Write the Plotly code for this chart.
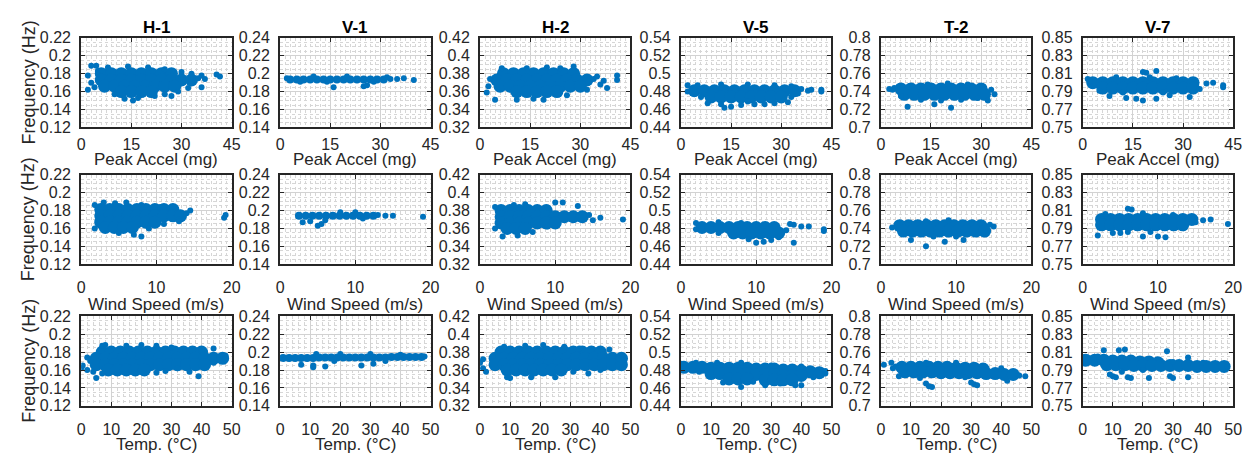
import plotly.graph_objects as go

# ---------------- data ----------------
columns = ["H-1", "V-1", "H-2", "V-5", "T-2", "V-7"]
row_xtitles = ["Peak Accel (mg)", "Wind Speed (m/s)", "Temp. (°C)"]
y_title = "Frequency (Hz)"

x_ticks_acc = [0, 15, 30, 45]
x_ticks_wind = [0, 10, 20]
x_ticks_temp = [0, 10, 20, 30, 40, 50]

y_ticks_h1 = [0.12, 0.14, 0.16, 0.18, 0.20, 0.22]
y_labels_h1 = ["0.12", "0.14", "0.16", "0.18", "0.2", "0.22"]
y_ticks_v1 = [0.14, 0.16, 0.18, 0.20, 0.22, 0.24]
y_labels_v1 = ["0.14", "0.16", "0.18", "0.2", "0.22", "0.24"]
y_ticks_h2 = [0.32, 0.34, 0.36, 0.38, 0.40, 0.42]
y_labels_h2 = ["0.32", "0.34", "0.36", "0.38", "0.4", "0.42"]
y_ticks_v5 = [0.44, 0.46, 0.48, 0.50, 0.52, 0.54]
y_labels_v5 = ["0.44", "0.46", "0.48", "0.5", "0.52", "0.54"]
y_ticks_t2 = [0.70, 0.72, 0.74, 0.76, 0.78, 0.80]
y_labels_t2 = ["0.7", "0.72", "0.74", "0.76", "0.78", "0.8"]
y_ticks_v7 = [0.75, 0.77, 0.79, 0.81, 0.83, 0.85]
y_labels_v7 = ["0.75", "0.77", "0.79", "0.81", "0.83", "0.85"]

# ---- Row 1 : Peak acceleration ----
acc_h1_cx = [6, 9, 12, 15, 18, 21, 24, 27, 6, 9, 12, 15, 18, 21, 24, 27, 30, 33, 7, 10, 13, 16, 19, 22, 25, 28, 12, 15, 18, 21]
acc_h1_cy = [0.180, 0.180, 0.180, 0.180, 0.180, 0.180, 0.180, 0.180, 0.173, 0.173, 0.173, 0.173, 0.173, 0.173, 0.173, 0.173, 0.173, 0.173, 0.166, 0.166, 0.166, 0.166, 0.166, 0.166, 0.166, 0.166, 0.160, 0.160, 0.160, 0.160]
acc_h1_ex = [2, 2, 3, 4.5, 3, 4, 5, 8, 14, 20, 25, 30, 13, 15.5, 17, 25, 27, 29, 32, 35, 37, 36, 40.5, 41.5, 36, 33, 10, 22]
acc_h1_ey = [0.162, 0.178, 0.189, 0.189, 0.170, 0.165, 0.183, 0.187, 0.188, 0.187, 0.185, 0.182, 0.152, 0.150, 0.153, 0.157, 0.155, 0.160, 0.164, 0.175, 0.174, 0.178, 0.179, 0.177, 0.165, 0.180, 0.157, 0.155]

acc_v1_cx = [3, 5, 7, 9, 11, 13, 15, 17, 19, 21, 23, 25, 27, 29, 31]
acc_v1_cy = [0.1935, 0.1935, 0.1935, 0.1935, 0.1935, 0.1935, 0.1935, 0.1935, 0.1935, 0.1935, 0.1935, 0.1935, 0.1935, 0.1935, 0.1935]
acc_v1_ex = [2, 16, 25, 26, 33, 35, 37, 40, 32, 10, 20, 28, 6, 14]
acc_v1_ey = [0.195, 0.185, 0.186, 0.187, 0.194, 0.194, 0.195, 0.193, 0.196, 0.197, 0.197, 0.191, 0.191, 0.191]

acc_h2_cx = [7, 10, 13, 16, 19, 22, 25, 28, 5, 8, 11, 14, 17, 20, 23, 26, 29, 32, 6, 9, 12, 15, 18, 21, 24, 27, 30, 11, 14, 17, 20, 23]
acc_h2_cy = [0.380, 0.380, 0.380, 0.380, 0.380, 0.380, 0.380, 0.380, 0.373, 0.373, 0.373, 0.373, 0.373, 0.373, 0.373, 0.373, 0.373, 0.373, 0.366, 0.366, 0.366, 0.366, 0.366, 0.366, 0.366, 0.366, 0.366, 0.360, 0.360, 0.360, 0.360, 0.360]
acc_h2_ex = [2, 2.5, 3, 4.5, 6.5, 11, 16, 19, 14, 20, 28, 24, 34, 35, 37, 38, 41, 41, 36, 32, 26]
acc_h2_ey = [0.359, 0.366, 0.374, 0.351, 0.386, 0.351, 0.352, 0.351, 0.386, 0.387, 0.388, 0.386, 0.374, 0.377, 0.372, 0.364, 0.378, 0.373, 0.368, 0.362, 0.356]

acc_v5_cx = [4, 7, 10, 13, 16, 19, 22, 25, 28, 31, 34, 9, 12, 15, 18, 21, 24, 27, 30]
acc_v5_cy = [0.481, 0.481, 0.481, 0.481, 0.481, 0.481, 0.481, 0.481, 0.481, 0.481, 0.481, 0.474, 0.474, 0.474, 0.474, 0.474, 0.474, 0.474, 0.474]
acc_v5_ex = [2, 2, 5, 12, 20, 28, 33, 36, 38, 39, 42, 42, 6, 8, 12, 13, 15, 18, 22, 25, 28, 32, 33, 35, 20]
acc_v5_ey = [0.487, 0.480, 0.487, 0.488, 0.488, 0.487, 0.486, 0.483, 0.481, 0.482, 0.482, 0.480, 0.474, 0.467, 0.466, 0.462, 0.463, 0.465, 0.466, 0.466, 0.467, 0.468, 0.474, 0.478, 0.469]

acc_t2_cx = [6, 9, 12, 15, 18, 21, 24, 27, 30, 7, 10, 13, 16, 19, 22, 25, 28, 31]
acc_t2_cy = [0.743, 0.743, 0.743, 0.743, 0.743, 0.743, 0.743, 0.743, 0.743, 0.737, 0.737, 0.737, 0.737, 0.737, 0.737, 0.737, 0.737, 0.737]
acc_t2_ex = [2.5, 4, 3.5, 6, 8, 16, 21, 29, 32, 33, 34, 12, 18, 24, 14, 20, 26]
acc_t2_ey = [0.743, 0.744, 0.742, 0.735, 0.723, 0.726, 0.722, 0.733, 0.730, 0.742, 0.737, 0.731, 0.730, 0.731, 0.748, 0.749, 0.748]

acc_v7_cx = [3, 6, 9, 12, 15, 18, 21, 24, 27, 30, 33, 6, 9, 12, 15, 18, 21, 24, 27, 30, 33]
acc_v7_cy = [0.800, 0.800, 0.800, 0.800, 0.800, 0.800, 0.800, 0.800, 0.800, 0.800, 0.800, 0.794, 0.794, 0.794, 0.794, 0.794, 0.794, 0.794, 0.794, 0.794, 0.794]
acc_v7_ex = [1.5, 2, 5, 8, 13, 16, 18, 22, 26, 32, 19, 18, 22, 37, 39, 42, 42, 35, 10, 20, 28, 12, 24]
acc_v7_ey = [0.804, 0.801, 0.791, 0.785, 0.783, 0.782, 0.780, 0.782, 0.786, 0.784, 0.811, 0.812, 0.813, 0.799, 0.800, 0.795, 0.797, 0.793, 0.806, 0.806, 0.805, 0.789, 0.789]

# ---- Row 2 : Wind speed ----
wind_h1_cx = [2.6, 3.8, 5.0, 6.2, 7.4, 8.6, 9.8, 11.0, 12.2, 2.6, 3.8, 5.0, 6.2, 7.4, 8.6, 9.8, 11.0, 12.2, 13.2, 2.6, 3.8, 5.0, 6.2, 7.4, 8.6, 9.8, 3.2, 4.4, 5.6, 6.8]
wind_h1_cy = [0.181, 0.181, 0.181, 0.181, 0.181, 0.181, 0.181, 0.181, 0.181, 0.174, 0.174, 0.174, 0.174, 0.174, 0.174, 0.174, 0.174, 0.174, 0.174, 0.167, 0.167, 0.167, 0.167, 0.167, 0.167, 0.167, 0.161, 0.161, 0.161, 0.161]
wind_h1_ex = [1.8, 1.8, 3, 4.5, 6, 8, 7, 8, 5, 9, 11, 13, 14, 14.5, 13, 19, 19.2, 10.5]
wind_h1_ey = [0.186, 0.160, 0.189, 0.188, 0.189, 0.186, 0.153, 0.151, 0.155, 0.160, 0.165, 0.170, 0.177, 0.180, 0.168, 0.172, 0.175, 0.184]

wind_v1_cx = [2.5, 3.4, 4.3, 5.2, 6.1, 7.0, 7.9, 8.8, 9.7, 10.6, 11.5, 12.4]
wind_v1_cy = [0.194, 0.194, 0.194, 0.194, 0.194, 0.194, 0.194, 0.194, 0.194, 0.194, 0.194, 0.194]
wind_v1_ex = [3, 5, 5.5, 4, 14, 15, 19, 13, 8, 10, 6, 11]
wind_v1_ey = [0.187, 0.183, 0.185, 0.188, 0.194, 0.194, 0.193, 0.195, 0.198, 0.198, 0.189, 0.191]

wind_h2_cx = [2.8, 4.0, 5.2, 6.4, 7.6, 8.8, 2.8, 4.0, 5.2, 6.4, 7.6, 8.8, 10.0, 11.2, 12.4, 13.6, 2.8, 4.0, 5.2, 6.4, 7.6, 8.8, 10.0, 3.6, 4.8, 6.0]
wind_h2_cy = [0.380, 0.380, 0.380, 0.380, 0.380, 0.380, 0.373, 0.373, 0.373, 0.373, 0.373, 0.373, 0.373, 0.373, 0.373, 0.373, 0.366, 0.366, 0.366, 0.366, 0.366, 0.366, 0.366, 0.360, 0.360, 0.360]
wind_h2_ex = [2, 2, 3, 5, 4.5, 6, 7, 10, 11, 13, 15, 16, 19, 14.5, 9, 9]
wind_h2_ey = [0.384, 0.360, 0.351, 0.352, 0.386, 0.387, 0.356, 0.389, 0.389, 0.385, 0.369, 0.372, 0.370, 0.375, 0.383, 0.362]

wind_v5_cx = [2.8, 4.0, 5.2, 6.4, 7.6, 8.8, 10.0, 11.2, 12.4, 7.0, 8.2, 9.4, 10.6, 11.8, 13.0]
wind_v5_cy = [0.481, 0.481, 0.481, 0.481, 0.481, 0.481, 0.481, 0.481, 0.481, 0.475, 0.475, 0.475, 0.475, 0.475, 0.475]
wind_v5_ex = [2, 2, 5, 8, 11, 5, 10, 11, 9, 12, 15, 13, 14.5, 15, 16, 17, 19, 19, 14]
wind_v5_ey = [0.486, 0.479, 0.487, 0.486, 0.483, 0.475, 0.464, 0.465, 0.468, 0.467, 0.464, 0.470, 0.485, 0.484, 0.482, 0.482, 0.479, 0.477, 0.478]

wind_t2_cx = [2.5, 3.7, 4.9, 6.1, 7.3, 8.5, 9.7, 10.9, 12.1, 13.3, 3.0, 4.2, 5.4, 6.6, 7.8, 9.0, 10.2, 11.4, 12.6, 13.8]
wind_t2_cy = [0.743, 0.743, 0.743, 0.743, 0.743, 0.743, 0.743, 0.743, 0.743, 0.743, 0.737, 0.737, 0.737, 0.737, 0.737, 0.737, 0.737, 0.737, 0.737, 0.737]
wind_t2_ex = [4, 6, 8.5, 11, 15, 14.5, 1.5, 6, 9, 7, 10]
wind_t2_ey = [0.727, 0.720, 0.725, 0.727, 0.742, 0.744, 0.741, 0.748, 0.749, 0.731, 0.731]

wind_v7_cx = [2.5, 3.7, 4.9, 6.1, 7.3, 8.5, 9.7, 10.9, 12.1, 13.3, 14.5, 2.5, 3.7, 4.9, 6.1, 7.3, 8.5, 9.7, 10.9, 12.1, 13.3]
wind_v7_cy = [0.800, 0.800, 0.800, 0.800, 0.800, 0.800, 0.800, 0.800, 0.800, 0.800, 0.800, 0.794, 0.794, 0.794, 0.794, 0.794, 0.794, 0.794, 0.794, 0.794, 0.794]
wind_v7_ex = [2, 4, 5, 6, 8, 10, 11, 9, 6, 6.5, 16, 17, 19.3, 15, 3, 8, 12]
wind_v7_ey = [0.782, 0.785, 0.785, 0.786, 0.781, 0.781, 0.780, 0.786, 0.812, 0.811, 0.799, 0.800, 0.795, 0.797, 0.806, 0.807, 0.805]

# ---- Row 3 : Temperature ----
temp_h1_cx = [7, 10, 13, 16, 19, 22, 25, 28, 31, 34, 37, 40, 5, 8, 11, 14, 17, 20, 23, 26, 29, 32, 35, 38, 41, 44, 47, 5, 8, 11, 14, 17, 20, 23, 26, 29, 32, 35, 38, 41, 9, 12, 15, 18, 21]
temp_h1_cy = [0.180, 0.180, 0.180, 0.180, 0.180, 0.180, 0.180, 0.180, 0.180, 0.180, 0.180, 0.180, 0.173, 0.173, 0.173, 0.173, 0.173, 0.173, 0.173, 0.173, 0.173, 0.173, 0.173, 0.173, 0.173, 0.173, 0.173, 0.166, 0.166, 0.166, 0.166, 0.166, 0.166, 0.166, 0.166, 0.166, 0.166, 0.166, 0.166, 0.166, 0.160, 0.160, 0.160, 0.160, 0.160]
temp_h1_ex = [0, 0.5, 2, 4, 5, 3, 2, 7, 8, 15, 20, 25, 30, 44, 39, 36, 46, 48, 48, 44, 28, 32, 40, 7, 25]
temp_h1_ey = [0.162, 0.165, 0.160, 0.158, 0.151, 0.170, 0.174, 0.187, 0.188, 0.187, 0.188, 0.187, 0.185, 0.184, 0.153, 0.158, 0.175, 0.176, 0.172, 0.168, 0.159, 0.162, 0.183, 0.156, 0.157]

temp_v1_cx = [1, 3, 5, 7, 9, 11, 13, 15, 17, 19, 21, 23, 25, 27, 29, 31, 33, 35, 37, 39, 41, 43, 45, 47]
temp_v1_cy = [0.1935, 0.1935, 0.1935, 0.1935, 0.1935, 0.1935, 0.194, 0.194, 0.194, 0.194, 0.194, 0.194, 0.194, 0.194, 0.194, 0.194, 0.194, 0.194, 0.1945, 0.1945, 0.1945, 0.1945, 0.1945, 0.1945]
temp_v1_ex = [7, 11, 15, 27, 31, 11, 0, 12, 20, 30, 40, 48, 18, 35]
temp_v1_ey = [0.186, 0.183, 0.184, 0.185, 0.187, 0.185, 0.193, 0.198, 0.198, 0.198, 0.197, 0.195, 0.190, 0.190]

temp_h2_cx = [7, 10, 13, 16, 19, 22, 25, 28, 31, 34, 37, 40, 5, 8, 11, 14, 17, 20, 23, 26, 29, 32, 35, 38, 41, 44, 47, 5, 8, 11, 14, 17, 20, 23, 26, 29, 32, 35, 38, 41, 44, 47, 9, 12, 15, 18, 21, 24, 27]
temp_h2_cy = [0.380, 0.380, 0.380, 0.380, 0.380, 0.380, 0.380, 0.380, 0.380, 0.380, 0.380, 0.380, 0.373, 0.373, 0.373, 0.373, 0.373, 0.373, 0.373, 0.373, 0.373, 0.373, 0.373, 0.373, 0.373, 0.373, 0.373, 0.366, 0.366, 0.366, 0.366, 0.366, 0.366, 0.366, 0.366, 0.366, 0.366, 0.366, 0.366, 0.366, 0.366, 0.366, 0.360, 0.360, 0.360, 0.360, 0.360, 0.360, 0.360]
temp_h2_ex = [0, 1, 2, 1, 6, 9, 10, 17, 25, 36, 43, 46, 48, 8, 15, 21, 28, 33, 40, 31]
temp_h2_ey = [0.368, 0.362, 0.358, 0.372, 0.375, 0.352, 0.351, 0.352, 0.352, 0.356, 0.383, 0.373, 0.372, 0.386, 0.387, 0.388, 0.386, 0.384, 0.360, 0.358]

temp_v5_cx = [1, 4, 7, 10, 13, 16, 19, 22, 25, 28, 31, 34, 37, 40, 43, 46, 10, 13, 16, 19, 22, 25, 28, 31, 34, 37, 40, 16, 19, 22, 28, 31, 34, 37]
temp_v5_cy = [0.483, 0.483, 0.483, 0.482, 0.482, 0.482, 0.482, 0.482, 0.481, 0.481, 0.481, 0.480, 0.480, 0.479, 0.478, 0.477, 0.476, 0.476, 0.476, 0.476, 0.476, 0.475, 0.475, 0.475, 0.474, 0.474, 0.474, 0.470, 0.470, 0.470, 0.469, 0.469, 0.469, 0.469]
temp_v5_ex = [0, 0, 5, 12, 20, 30, 40, 48, 48, 6, 20, 28, 38, 40, 14, 24, 33, 44]
temp_v5_ey = [0.487, 0.481, 0.488, 0.488, 0.488, 0.485, 0.484, 0.479, 0.476, 0.478, 0.461, 0.463, 0.463, 0.463, 0.466, 0.467, 0.465, 0.472]

temp_t2_cx = [7, 10, 13, 16, 19, 22, 25, 28, 31, 34, 8, 11, 14, 17, 20, 23, 26, 29, 32, 35, 38, 41, 44]
temp_t2_cy = [0.743, 0.743, 0.743, 0.743, 0.743, 0.743, 0.742, 0.742, 0.742, 0.741, 0.738, 0.738, 0.738, 0.738, 0.737, 0.737, 0.737, 0.737, 0.737, 0.736, 0.736, 0.735, 0.735]
temp_t2_ex = [1, 3.5, 4, 5, 6, 15, 16, 17, 31, 32, 30, 42, 48, 46, 40, 25, 15, 13, 28]
temp_t2_ey = [0.746, 0.748, 0.742, 0.744, 0.733, 0.725, 0.722, 0.721, 0.724, 0.723, 0.726, 0.728, 0.733, 0.734, 0.742, 0.748, 0.748, 0.731, 0.732]

temp_v7_cx = [1, 4, 7, 10, 13, 16, 19, 22, 25, 8, 11, 14, 17, 20, 23, 26, 29, 32, 35, 38, 41, 44, 47]
temp_v7_cy = [0.801, 0.801, 0.801, 0.800, 0.800, 0.800, 0.799, 0.799, 0.798, 0.796, 0.796, 0.796, 0.795, 0.795, 0.795, 0.795, 0.795, 0.795, 0.795, 0.794, 0.794, 0.794, 0.794]
temp_v7_ex = [0, 0, 7, 12, 14, 28, 35, 10, 11, 15, 16, 22, 29, 30, 35, 9, 13, 20, 30, 40, 48, 5]
temp_v7_ey = [0.804, 0.799, 0.812, 0.812, 0.813, 0.811, 0.804, 0.783, 0.782, 0.782, 0.781, 0.781, 0.783, 0.781, 0.782, 0.785, 0.788, 0.790, 0.799, 0.798, 0.794, 0.805]

# ---------------- assembling ----------------
panels = [
    [(acc_h1_cx, acc_h1_cy, acc_h1_ex, acc_h1_ey), (acc_v1_cx, acc_v1_cy, acc_v1_ex, acc_v1_ey),
     (acc_h2_cx, acc_h2_cy, acc_h2_ex, acc_h2_ey), (acc_v5_cx, acc_v5_cy, acc_v5_ex, acc_v5_ey),
     (acc_t2_cx, acc_t2_cy, acc_t2_ex, acc_t2_ey), (acc_v7_cx, acc_v7_cy, acc_v7_ex, acc_v7_ey)],
    [(wind_h1_cx, wind_h1_cy, wind_h1_ex, wind_h1_ey), (wind_v1_cx, wind_v1_cy, wind_v1_ex, wind_v1_ey),
     (wind_h2_cx, wind_h2_cy, wind_h2_ex, wind_h2_ey), (wind_v5_cx, wind_v5_cy, wind_v5_ex, wind_v5_ey),
     (wind_t2_cx, wind_t2_cy, wind_t2_ex, wind_t2_ey), (wind_v7_cx, wind_v7_cy, wind_v7_ex, wind_v7_ey)],
    [(temp_h1_cx, temp_h1_cy, temp_h1_ex, temp_h1_ey), (temp_v1_cx, temp_v1_cy, temp_v1_ex, temp_v1_ey),
     (temp_h2_cx, temp_h2_cy, temp_h2_ex, temp_h2_ey), (temp_v5_cx, temp_v5_cy, temp_v5_ex, temp_v5_ey),
     (temp_t2_cx, temp_t2_cy, temp_t2_ex, temp_t2_ey), (temp_v7_cx, temp_v7_cy, temp_v7_ex, temp_v7_ey)],
]
y_ticks = [y_ticks_h1, y_ticks_v1, y_ticks_h2, y_ticks_v5, y_ticks_t2, y_ticks_v7]
y_labels = [y_labels_h1, y_labels_v1, y_labels_h2, y_labels_v5, y_labels_t2, y_labels_v7]
x_ticks = [x_ticks_acc, x_ticks_wind, x_ticks_temp]

# ---------------- styling / layout ----------------
W, H = 1259, 463
col_left = [78, 279, 481, 684, 886, 1090]
pw, ph = 152, 93
row_top = [31, 173, 320]
x_minor = [1.5, 10 / 15, 2]
x_standoff = [1, 8, 8]
xtitle_y = [157, 308, 453]
core_size = [13, 8, 13, 13, 13, 13]
BLUE = "#0072BD"
DARK = "#262626"
FONT = "Liberation Sans, Arial, Helvetica, sans-serif"

fig = go.Figure()
layout = dict(
    width=W, height=H, margin=dict(l=0, r=0, t=0, b=0),
    paper_bgcolor="white", plot_bgcolor="white", showlegend=False,
    font=dict(family=FONT, size=16, color=DARK),
)
annotations = []

for r in range(3):
    for c in range(6):
        k = r * 6 + c + 1
        xa = "xaxis" if k == 1 else f"xaxis{k}"
        ya = "yaxis" if k == 1 else f"yaxis{k}"
        xr = "x" if k == 1 else f"x{k}"
        yr = "y" if k == 1 else f"y{k}"
        cx, cy, ex, ey = panels[r][c]
        fig.add_trace(go.Scatter(x=cx, y=cy, mode="markers", xaxis=xr, yaxis=yr,
                                 marker=dict(color=BLUE, size=core_size[c], line=dict(width=0)),
                                 hoverinfo="skip"))
        fig.add_trace(go.Scatter(x=ex, y=ey, mode="markers", xaxis=xr, yaxis=yr,
                                 marker=dict(color=BLUE, size=6, line=dict(width=0)),
                                 hoverinfo="skip"))
        xt = x_ticks[r]
        common = dict(showline=True, linewidth=2, linecolor=DARK, mirror="allticks",
                      ticks="inside", ticklen=4, tickwidth=1, tickcolor=DARK,
                      showgrid=True, gridcolor="#d2d2d2", gridwidth=1, zeroline=False,
                      tickfont=dict(family=FONT, size=16, color=DARK))
        layout[xa] = dict(common, domain=[col_left[c] / W, (col_left[c] + pw) / W],
                          anchor=yr, range=[xt[0], xt[-1]], tickmode="array", tickvals=xt,
                          ticktext=[str(v) for v in xt], ticklabelstandoff=x_standoff[r],
                          minor=dict(tickmode="linear", tick0=0, dtick=x_minor[r], showgrid=True,
                                     gridcolor="#d6d6d6", griddash="dot", gridwidth=1, ticks=""))
        yt = y_ticks[c]
        layout[ya] = dict(common, domain=[1 - (row_top[r] + ph) / H, 1 - row_top[r] / H],
                          anchor=xr, range=[yt[0], yt[-1]], tickmode="array", tickvals=yt,
                          ticktext=y_labels[c], ticklabelstandoff=5,
                          minor=dict(tickmode="linear", tick0=yt[0], dtick=0.005, showgrid=True,
                                     gridcolor="#d6d6d6", griddash="dot", gridwidth=1, ticks=""))
        if r == 0:
            annotations.append(dict(text=f"<b>{columns[c]}</b>", x=(col_left[c] + pw / 2) / W,
                                    y=1 - 20 / H, xref="paper", yref="paper", showarrow=False,
                                    xanchor="center", yanchor="middle",
                                    font=dict(family=FONT, size=17, color="black")))
        annotations.append(dict(text=row_xtitles[r], x=(col_left[c] + pw / 2) / W,
                                y=1 - xtitle_y[r] / H, xref="paper", yref="paper", showarrow=False,
                                xanchor="center", yanchor="middle",
                                font=dict(family=FONT, size=17, color=DARK)))
    annotations.append(dict(text=y_title, x=25 / W, y=1 - (row_top[r] + ph / 2) / H,
                            xref="paper", yref="paper", showarrow=False, textangle=-90,
                            xanchor="center", yanchor="middle",
                            font=dict(family=FONT, size=18, color=DARK)))

layout["annotations"] = annotations
fig.update_layout(**layout)
fig.write_html("out.html")
